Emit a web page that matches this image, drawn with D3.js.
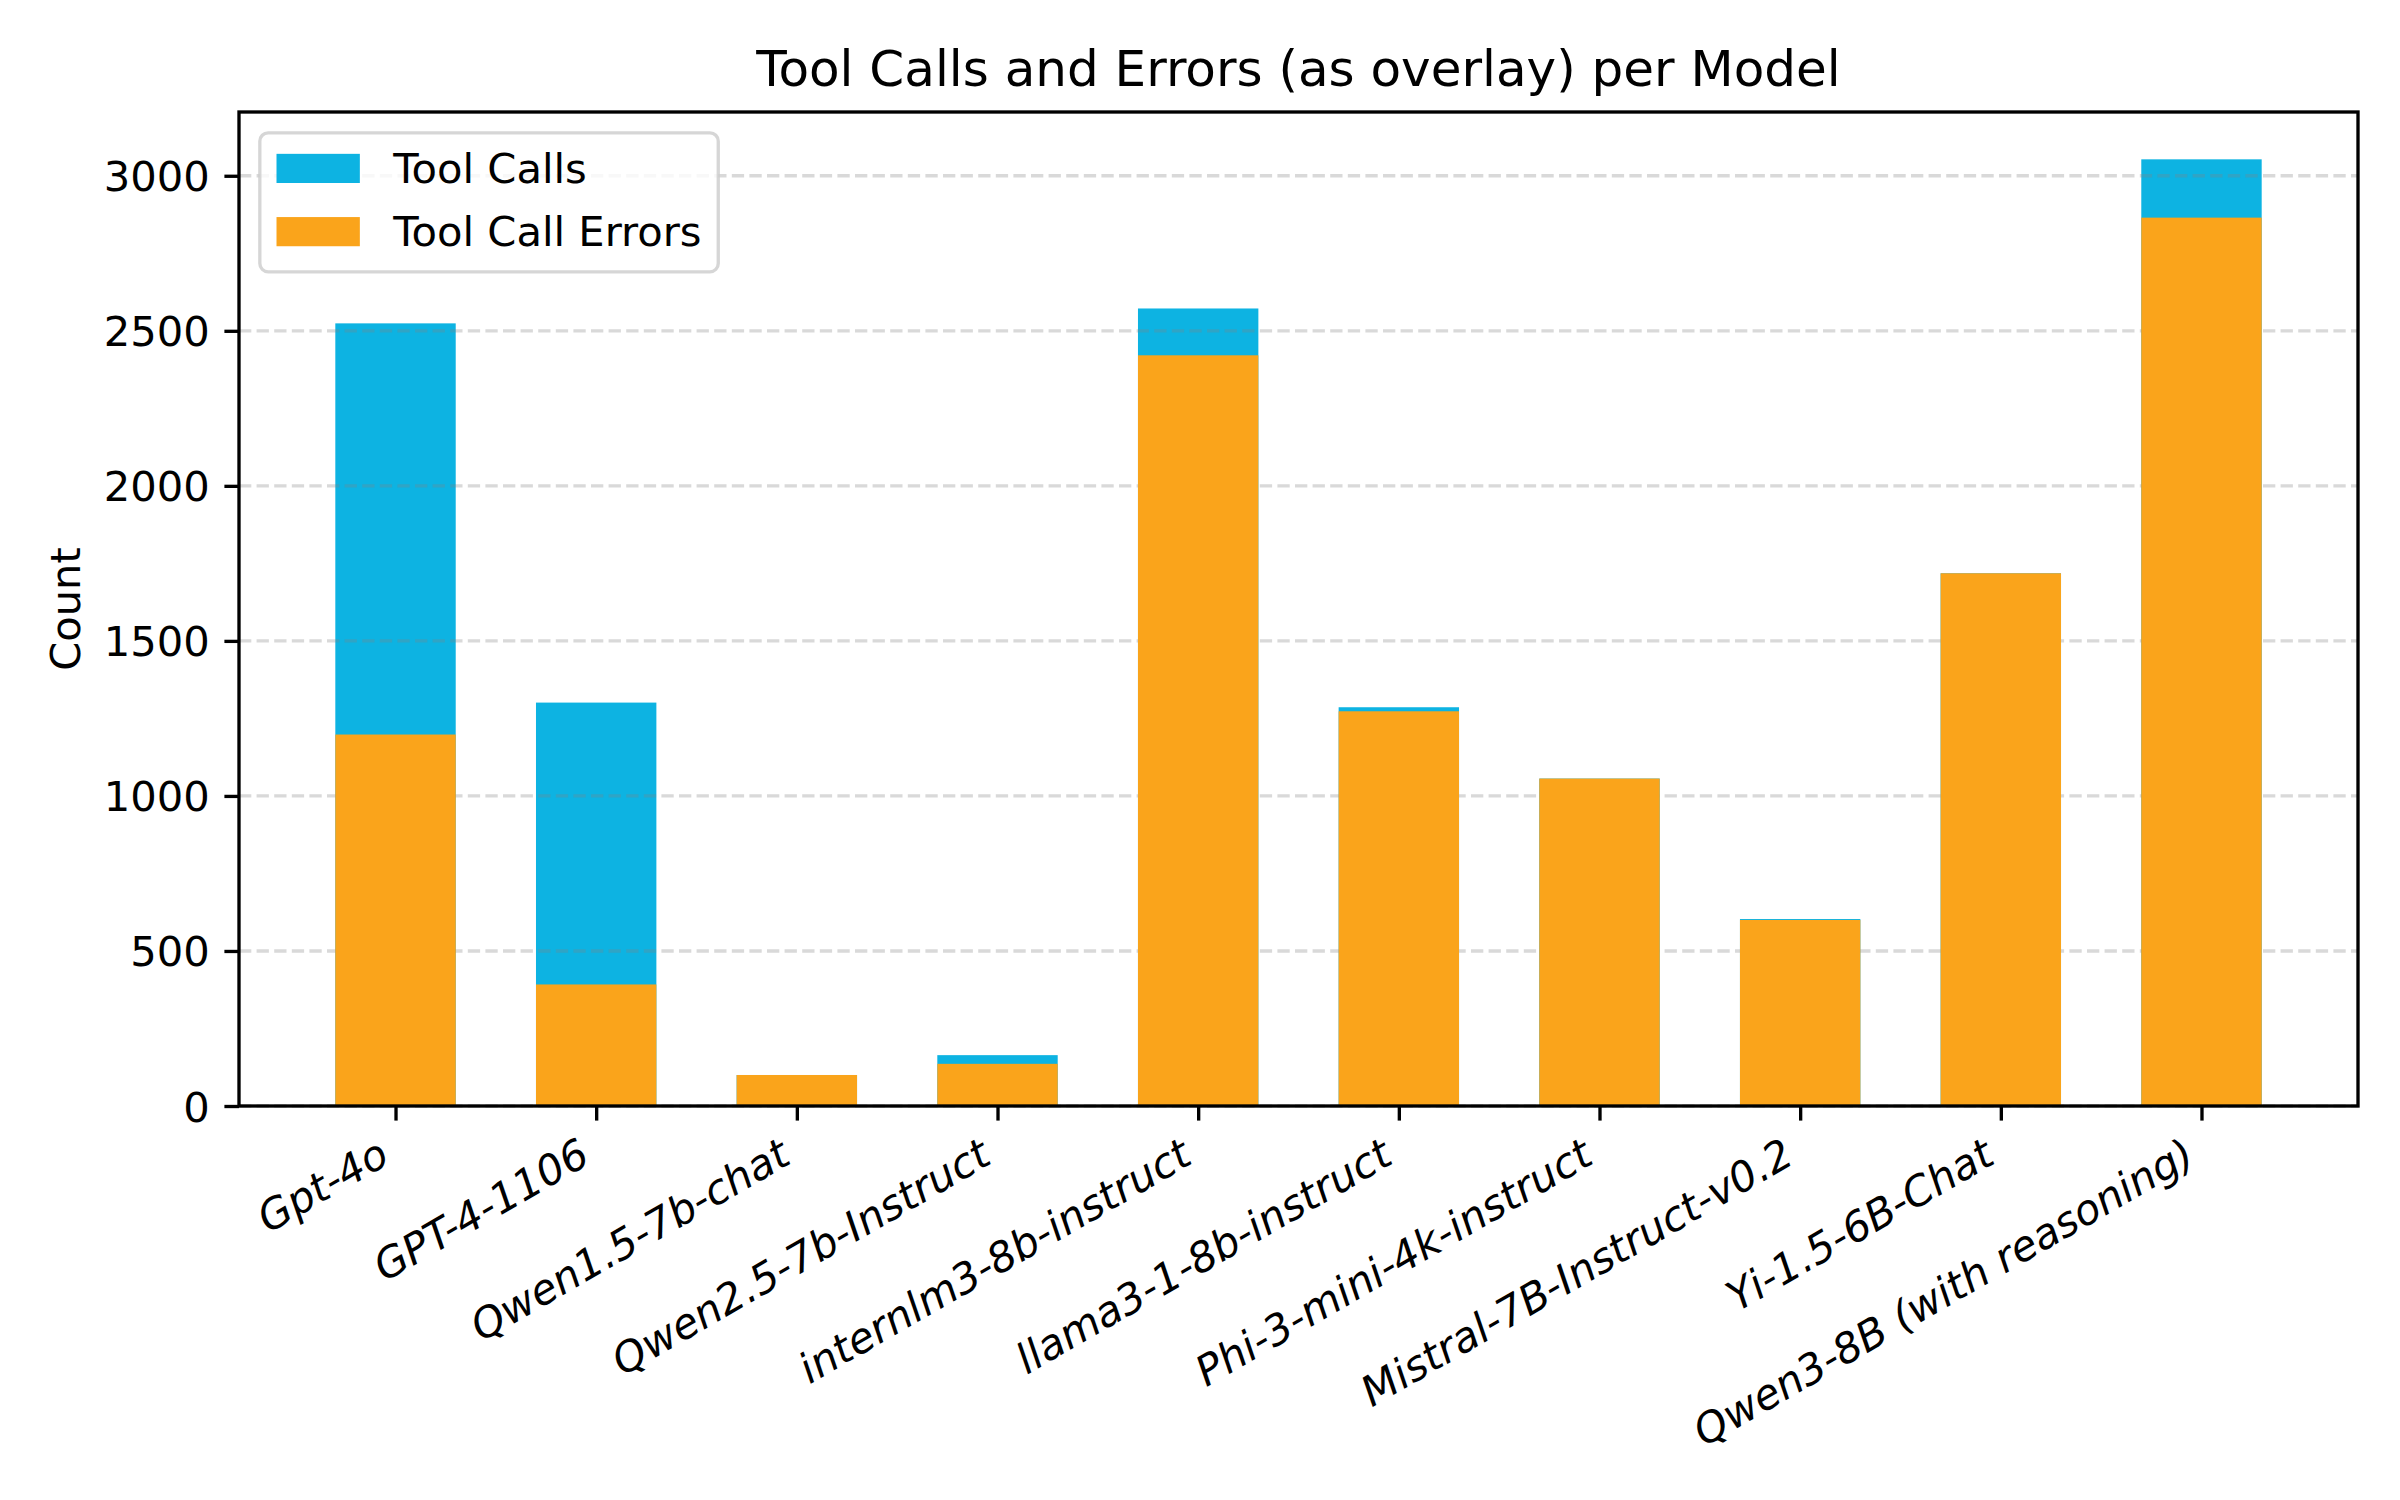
<!DOCTYPE html>
<html><head><meta charset="utf-8">
<script src="https://cdn.jsdelivr.net/npm/d3@7"></script>
<style>
body{margin:0;background:#fff}
svg{display:block}
text{font-family:"DejaVu Sans",sans-serif;fill:#000}
</style>
</head><body>
<svg id="chart" width="2400" height="1500"></svg>
<script>
// ---- data ----
const models = ["Gpt-4o","GPT-4-1106","Qwen1.5-7b-chat","Qwen2.5-7b-Instruct","internlm3-8b-instruct","llama3-1-8b-instruct","Phi-3-mini-4k-instruct","Mistral-7B-Instruct-v0.2","Yi-1.5-6B-Chat","Qwen3-8B (with reasoning)"];
const toolCalls = [2524, 1301, 100, 164, 2572, 1286, 1056, 603, 1718, 3053];
const toolCallErrors = [1198, 392, 100, 136, 2421, 1273, 1056, 600, 1718, 2865];
const yTickValues = [0, 500, 1000, 1500, 2000, 2500, 3000];
const seriesNames = ["Tool Calls", "Tool Call Errors"];
const chartTitle = "Tool Calls and Errors (as overlay) per Model";
const yAxisLabel = "Count";

// ---- style/layout ----
const BLUE = "#0db3e2", ORANGE = "#faa41b";
const L = 239, R = 2358, T = 112, B = 1106;
const FS = 41.67, LW = 3.33, TICK = 14.6, PAD = 14.6;

const svg = d3.select("#chart");
svg.append("rect").attr("width",2400).attr("height",1500).attr("fill","#fff");

const x = d3.scaleLinear().domain([-0.78, models.length - 1 + 0.78]).range([L, R]);
const y = d3.scaleLinear().domain([0, d3.max(toolCalls) * 1.05]).range([B, T]);
const halfW = 0.3;

// blue bars (below grid)
svg.append("g").selectAll("rect").data(toolCalls).join("rect")
  .attr("x", (d,i) => x(i - halfW)).attr("width", (d,i) => x(i + halfW) - x(i - halfW))
  .attr("y", d => y(d)).attr("height", d => y(0) - y(d)).attr("fill", BLUE);

// grid
svg.append("g").selectAll("line").data(yTickValues).join("line")
  .attr("x1", L).attr("x2", R).attr("y1", d => y(d)).attr("y2", d => y(d))
  .attr("stroke", "gray").attr("stroke-opacity", 0.3).attr("stroke-width", LW)
  .attr("stroke-dasharray", "12.3,5.3");

// orange bars (above grid)
svg.append("g").selectAll("rect").data(toolCallErrors).join("rect")
  .attr("x", (d,i) => x(i - halfW)).attr("width", (d,i) => x(i + halfW) - x(i - halfW))
  .attr("y", d => y(d)).attr("height", d => y(0) - y(d)).attr("fill", ORANGE);

// y axis
const yAxis = svg.append("g").attr("transform", `translate(${L},0)`)
  .call(d3.axisLeft(y).tickValues(yTickValues).tickFormat(d3.format("d")).tickSize(TICK).tickPadding(PAD));
yAxis.select(".domain").remove();
yAxis.selectAll(".tick line").attr("stroke", "#000").attr("stroke-width", LW);
yAxis.selectAll(".tick text").attr("font-size", FS).attr("font-family", '"DejaVu Sans",sans-serif').attr("dy", "0.36em");

// x axis
const xAxis = svg.append("g").attr("transform", `translate(0,${B})`)
  .call(d3.axisBottom(x).tickValues(d3.range(models.length)).tickFormat(i => models[i]).tickSize(TICK).tickPadding(PAD));
xAxis.select(".domain").remove();
xAxis.selectAll(".tick line").attr("stroke", "#000").attr("stroke-width", LW);
const sin30 = Math.sin(Math.PI/6), cos30 = Math.cos(Math.PI/6);
const asc = 0.76 * FS, desc = 0.23 * FS;
const px = -desc * sin30, py = TICK + PAD + asc * cos30;
xAxis.selectAll(".tick text")
  .attr("font-size", FS).attr("font-family", '"DejaVu Sans",sans-serif').attr("font-style", "italic")
  .attr("text-anchor", "end").attr("dy", null)
  .attr("x", px).attr("y", py)
  .attr("transform", `rotate(-30,${px},${py})`);

// spines
svg.append("rect").attr("x", L).attr("y", T).attr("width", R - L).attr("height", B - T)
  .attr("fill", "none").attr("stroke", "#000").attr("stroke-width", LW);

// title
svg.append("text").attr("x", (L + R) / 2).attr("y", T - 26).attr("text-anchor", "middle")
  .attr("font-size", 50).text(chartTitle);

// y label
svg.append("text").attr("transform", `translate(80,${(T + B) / 2}) rotate(-90)`)
  .attr("text-anchor", "middle").attr("font-size", FS).text(yAxisLabel);

// legend
const lg = svg.append("g");
const lgL = L + 0.5 * FS, lgT = T + 0.5 * FS;
const bp = 0.4 * FS, hl = 2.0 * FS, hh = 0.7 * FS, htp = 0.8 * FS, ls = 0.5 * FS, rowH = 42.4;
const frame = lg.append("rect").attr("x", lgL).attr("y", lgT).attr("rx", 0.2 * FS).attr("ry", 0.2 * FS)
  .attr("fill", "#fff").attr("fill-opacity", 0.8).attr("stroke", "#cccccc").attr("stroke-opacity", 0.8).attr("stroke-width", LW);
const legendColors = [BLUE, ORANGE];
let maxW = 0;
seriesNames.forEach((name, k) => {
  const rowTop = lgT + bp + k * (rowH + ls);
  const base = rowTop + 33.5;
  lg.append("rect").attr("x", lgL + bp).attr("y", base - hh).attr("width", hl).attr("height", hh).attr("fill", legendColors[k]);
  const t = lg.append("text").attr("x", lgL + bp + hl + htp).attr("y", base).attr("font-size", FS).text(name);
  maxW = Math.max(maxW, t.node().getComputedTextLength());
});
frame.attr("width", bp + hl + htp + maxW + bp).attr("height", 2 * bp + 2 * rowH + ls);
</script>
</body></html>
